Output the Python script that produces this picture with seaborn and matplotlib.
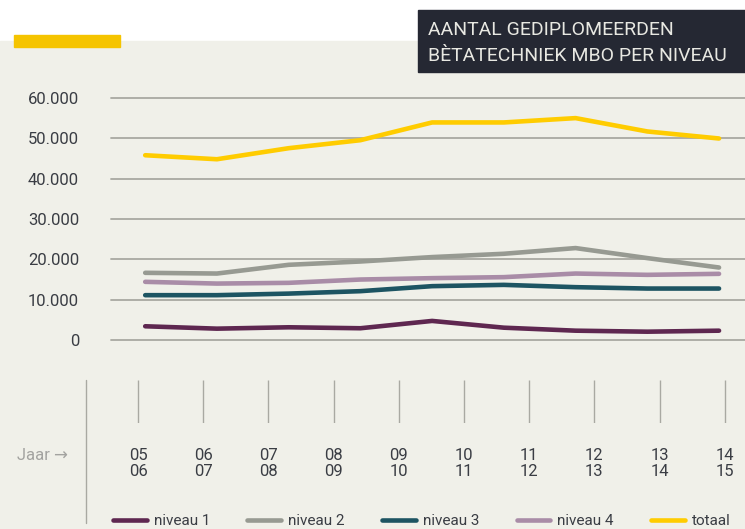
import pandas as pd
import matplotlib.pyplot as plt
import seaborn as sns
from matplotlib.patches import Rectangle
from matplotlib.lines import Line2D

# Data
series_names = ["niveau 1", "niveau 2", "niveau 3", "niveau 4", "totaal"]
niveau_1 = [3470, 2880, 3220, 2980, 4790, 3120, 2380, 2130, 2380]
niveau_2 = [16690, 16510, 18670, 19490, 20580, 21400, 22810, 20330, 18000]
niveau_3 = [11160, 11160, 11550, 12150, 13390, 13710, 13140, 12800, 12800]
niveau_4 = [14460, 14030, 14210, 15030, 15370, 15620, 16510, 16190, 16440]
totaal = [45770, 44780, 47510, 49490, 53880, 53880, 54950, 51650, 49910]
year_labels = ["05\n06", "06\n07", "07\n08", "08\n09", "09\n10",
               "10\n11", "11\n12", "12\n13", "13\n14", "14\n15"]
y_ticks = [0, 10000, 20000, 30000, 40000, 50000, 60000]
y_tick_labels = ["0", "10.000", "20.000", "30.000", "40.000", "50.000", "60.000"]

colors = ["#5e2750", "#979a92", "#1d5462", "#a98ca7", "#ffcc00"]

rows = []
for name, vals in zip(series_names, [niveau_1, niveau_2, niveau_3, niveau_4, totaal]):
    for i, v in enumerate(vals):
        rows.append({"punt": i, "aantal": v, "reeks": name})
df = pd.DataFrame(rows)

sns.set_theme(style="white")
plt.rcParams["font.family"] = ["Roboto", "DejaVu Sans"]

W, H = 745, 529
fig = plt.figure(figsize=(W / 100, H / 100), dpi=100, facecolor="white")
bg = "#f0f0e9"
txt_col = "#3a3d44"

# light background panel below the white strip
fig.add_artist(Rectangle((0, 0), 1, 1 - 40.7 / H, transform=fig.transFigure,
                         color=bg, zorder=0))
# yellow accent bar
fig.add_artist(Rectangle((14 / W, 1 - 47 / H), 106 / W, 12 / H,
                         transform=fig.transFigure, color="#f5c400", zorder=1))
# dark title box
fig.add_artist(Rectangle((418 / W, 1 - 72 / H), 327 / W, 62 / H,
                         transform=fig.transFigure, color="#252833", zorder=1))
fig.text(428 / W, 1 - 30 / H, "AANTAL GEDIPLOMEERDEN", color="#e8e8e2",
         fontsize=14, va="center", ha="left")
fig.text(428 / W, 1 - 56 / H, "BÈTATECHNIEK MBO PER NIVEAU", color="#e8e8e2",
         fontsize=14, va="center", ha="left")

# main chart
left, right = 111 / W, 1.0
bottom, top = 1 - 340.3 / H, 1 - 97.7 / H
ax = fig.add_axes([left, bottom, right - left, top - bottom])
ax.set_facecolor("none")
sns.lineplot(data=df, x="punt", y="aantal", hue="reeks", hue_order=series_names,
             palette=colors, linewidth=3.3, ax=ax, zorder=3, legend=False)
for ln in ax.get_lines():
    ln.set_solid_capstyle("round")
    ln.set_clip_on(False)

step = 71.73
ax.set_xlim(-(145.2 - 111) / step, (745 - 145.2) / step)
ax.set_ylim(0, 60000)
ax.set_yticks(y_ticks)
ax.set_yticklabels(y_tick_labels)
ax.set_xticks([])
ax.set_xlabel("")
ax.set_ylabel("")
for y in y_ticks:
    ax.axhline(y, color="#a9a9a2", linewidth=1.3, zorder=1, clip_on=False)
for s in ax.spines.values():
    s.set_visible(False)
ax.tick_params(axis="y", length=0, pad=23, labelsize=12, labelcolor=txt_col)

# bottom axis with year markers
ax2 = fig.add_axes([left, 1 - 423 / H, right - left, 43 / H])
ax2.set_facecolor("none")
step2 = 65.2
ax2.set_xlim(-(138 - 111) / step2, (745 - 138) / step2)
ax2.set_ylim(0, 1)
ax2.vlines(range(len(year_labels)), 0, 1, color="#a9a9a2", linewidth=1.0)
ax2.set_xticks(range(len(year_labels)))
ax2.set_xticklabels(year_labels, linespacing=1.1)
ax2.set_yticks([])
for s in ax2.spines.values():
    s.set_visible(False)
ax2.tick_params(axis="x", length=0, pad=18, labelsize=12, labelcolor=txt_col)

fig.text(17 / W, 1 - 456 / H, "Jaar \u2192", color="#a3a3a0", fontsize=12,
         va="center", ha="left")
fig.add_artist(Line2D([85.5 / W, 85.5 / W], [1 - 380 / H, 1 - 523 / H],
                      transform=fig.transFigure, color="#a9a9a2", linewidth=1.0))

leg_handles = [Line2D([0], [0], color=c, linewidth=3.3, solid_capstyle="round")
               for c in colors]
fig.legend(leg_handles, series_names, loc="center left",
           bbox_to_anchor=(113 / W, 1 - 521 / H), ncol=5, frameon=False,
           fontsize=11, handlelength=2.2, handletextpad=0.46,
           columnspacing=2.45, borderaxespad=0, borderpad=0,
           labelcolor=txt_col)

plt.savefig("out.png", dpi=100, facecolor="white")
plt.close()
